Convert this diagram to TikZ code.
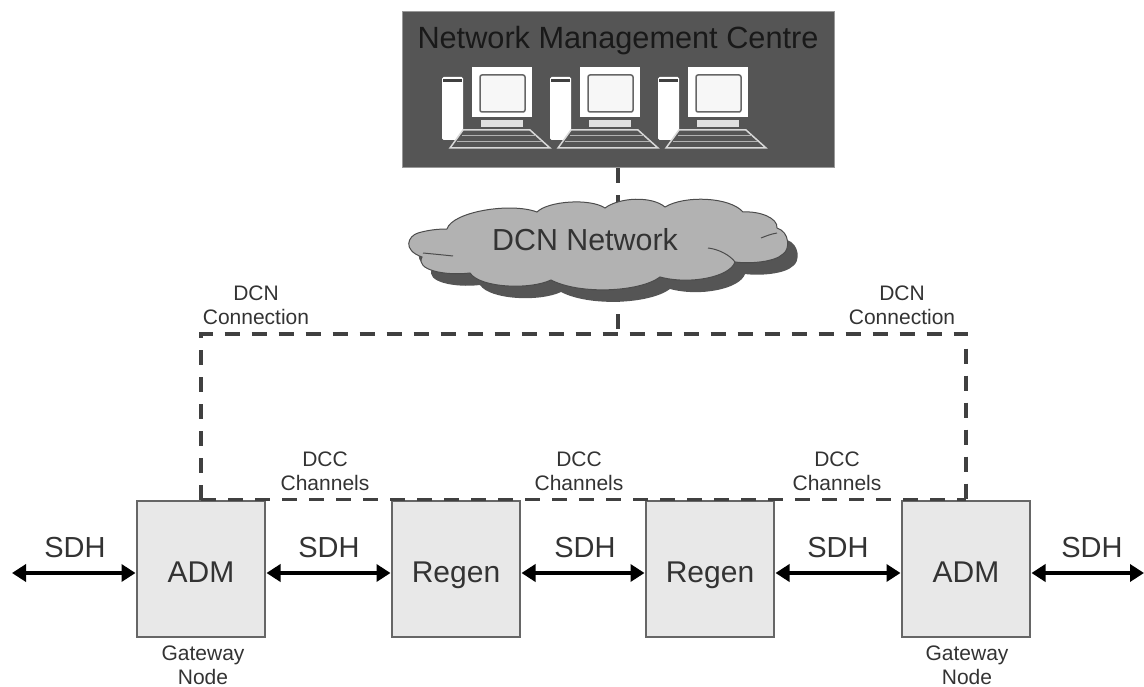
\documentclass[tikz,border=0pt]{standalone}
\usepackage{fontspec}
\setmainfont{Liberation Sans}
\usetikzlibrary{arrows.meta}
\definecolor{boxgrey}{HTML}{E8E8E8}
\definecolor{nmcgrey}{HTML}{555555}
\definecolor{cloudgrey}{HTML}{B2B2B2}
\definecolor{shadowgrey}{HTML}{555555}
\definecolor{labelgrey}{HTML}{333333}
\newcommand{\cloudpath}{
	(447,229) .. controls (452,212) and (510,202) .. (537,212)
	.. controls (548,201) and (590,198) .. (605,208)
	.. controls (620,197) and (652,196) .. (665,207)
	.. controls (685,195) and (730,197) .. (743,212)
	.. controls (760,211) and (778,218) .. (777,228)
	.. controls (790,232) and (790,250) .. (783,254)
	.. controls (775,262) and (750,264) .. (735,262)
	.. controls (730,277) and (690,285) .. (660,277)
	.. controls (640,292) and (580,295) .. (551,280)
	.. controls (530,290) and (480,288) .. (470,273)
	.. controls (445,276) and (415,270) .. (422,257)
	.. controls (402,250) and (408,236) .. (418,233)
	.. controls (428,230) and (438,229) .. (447,229) -- cycle
}
\tikzset{
	boxnode/.style={rectangle, draw=black!60, fill=boxgrey, line width=1.5pt, minimum width=128pt, minimum height=136pt, inner sep=0pt, outer sep=1.5pt, text=labelgrey, text height=26pt, text depth=0pt, font=\fontsize{30}{34}\selectfont},
	sdhlink/.style={{Triangle[length=14pt,width=17pt]}-{Triangle[length=14pt,width=17pt]}, line width=4pt, black},
	dcnlink/.style={line width=3.5pt, black!75, dash pattern=on 15pt off 12pt},
	biglabel/.style={text=labelgrey, inner sep=0pt, font=\fontsize{29}{33}\selectfont},
	smalllabel/.style={text=labelgrey, inner sep=0pt, align=center, font=\fontsize{21}{24}\selectfont},
	workstation/.pic={
		\fill[white, rounded corners=1.5pt] (-30,10) rectangle (-9,73);
		\fill[black!75] (-29,12.5) rectangle (-10,15.5);
		\fill[white] (0,0) rectangle (60,50);
		\draw[black!60, fill=white!97!black, line width=1.5pt, rounded corners=2pt] (8,8) rectangle (53,45);
		\fill[black!12] (9,53) rectangle (51,60);
		\draw[white!85!black, fill=nmcgrey, line width=1.5pt] (-22,81) -- (-9,63) -- (58,63) -- (78,81) -- cycle;
		\draw[white!70!black, line width=1pt] (-15,75) -- (70,75);
		\draw[white!70!black, line width=1pt] (-10,69) -- (64,69);
	}
}
\begin{document}
\begin{tikzpicture}[x=1pt, y=-1pt]
\useasboundingbox (0,0) rectangle (1144,687);
\node[rectangle, draw=black!40, fill=nmcgrey, line width=1pt, minimum width=432pt, minimum height=156pt, inner sep=0pt] (nmc) at (618,90) {};
\node[text=black!90, inner sep=0pt, font=\fontsize{30.7}{34}\selectfont] (nmctitle) at (618,41) {Network Management Centre};
\foreach \x in {472,580,688}{
	\pic at (\x,67) {workstation};
}
%
\coordinate (dcntop) at (618,205);
\coordinate (dcnbottom) at (618,296);
\coordinate (dcnjoin) at (618,334);
\draw[dcnlink] (nmc.south) -- (dcntop);
\draw[dcnlink, dash phase=22pt] (dcnjoin) -- (dcnbottom);
%
\fill[shadowgrey, shift={(10,12)}] \cloudpath;
\draw[black!70, fill=cloudgrey, line width=1pt] \cloudpath;
\draw[black!70, line width=1pt] (423,253) .. controls (433,254) and (444,255) .. (453,256);
\draw[black!70, line width=1pt] (708,248) .. controls (718,249) and (730,255) .. (735,262);
\draw[black!70, line width=1pt] (761,238) .. controls (766,236) and (771,234) .. (777,233);
\node[text=labelgrey, inner sep=0pt, font=\fontsize{30.4}{34}\selectfont] (dcn) at (585,240) {DCN Network};
%
\foreach \n\x\t in {
	adma/201/ADM
	,regena/456/Regen
	,regenb/710/Regen
	,admb/966/ADM
}{
	\node[boxnode] (\n) at (\x,569) {\t};
}
\coordinate (westend) at (12,573);
\coordinate (eastend) at (1144,573);
\draw[sdhlink] (westend) -- (westend -| adma.west);
\foreach \u\v in {%
	adma/regena%
	,regena/regenb%
	,regenb/admb%
}{
\draw[sdhlink] (\u.east |- westend) -- (\v.west |- westend);
}
\draw[sdhlink] (admb.east |- eastend) -- (eastend);
%
\draw[dcnlink] (adma.north) -- (adma.north |- dcnjoin) -- (admb.north |- dcnjoin) -- (admb.north);
\draw[dcnlink] (adma.north) -- (admb.north);
%
\foreach[count=\i] \x in {75,329,585,838,1092}{
	\node[biglabel] (sdh\i) at (\x,548) {SDH};
}
\foreach[count=\i] \x in {325,579,837}{
	\node[smalllabel] (dcc\i) at (\x,471) {DCC\\Channels};
}
\foreach[count=\i] \x in {256,902}{
	\node[smalllabel] (conn\i) at (\x,305) {DCN\\Connection};
}
\foreach[count=\i] \x in {203,967}{
	\node[smalllabel] (gateway\i) at (\x,665.5) {Gateway\\Node};
}
\end{tikzpicture}
\end{document}
